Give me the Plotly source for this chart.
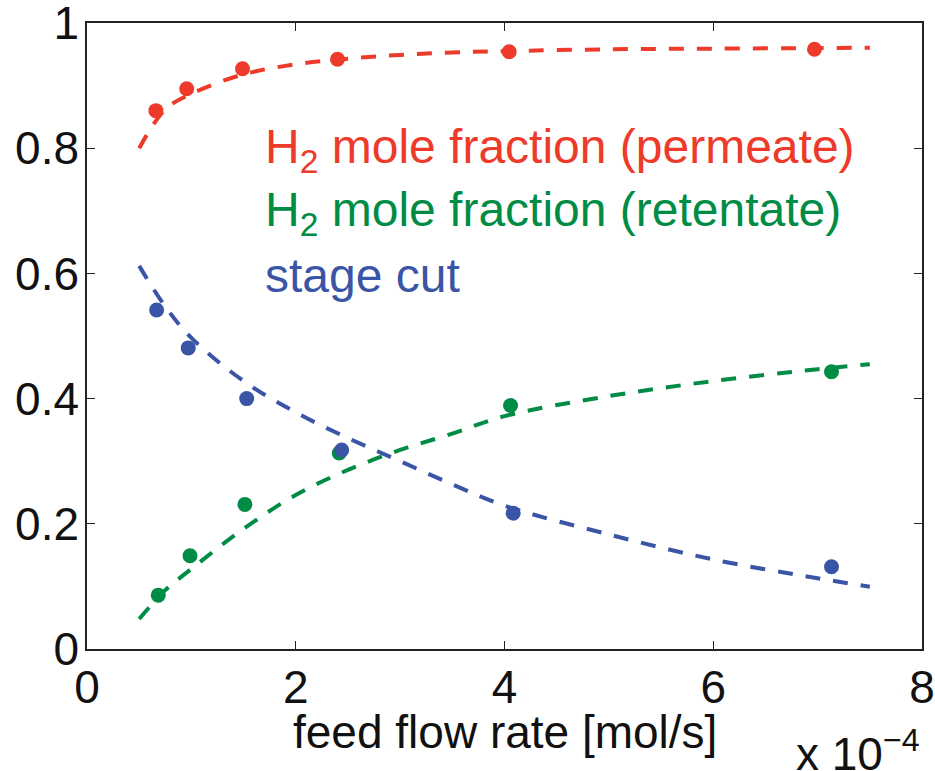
import plotly.graph_objects as go

# Measured points (feed flow rate in units of 1e-4 mol/s)
perm_x = [0.66, 0.955, 1.49, 2.40, 4.045, 6.97]
perm_y = [0.860, 0.895, 0.927, 0.942, 0.954, 0.958]

ret_x = [0.683, 0.987, 1.513, 2.417, 4.058, 7.133]
ret_y = [0.086, 0.149, 0.231, 0.313, 0.389, 0.443]

cut_x = [0.667, 0.970, 1.530, 2.440, 4.083, 7.133]
cut_y = [0.5415, 0.481, 0.400, 0.318, 0.217, 0.1315]

# Model curves
fit_x = [0.5, 0.75, 1.0, 1.5, 2.0, 2.5, 3.0, 3.5, 4.0, 5.0, 6.0, 7.0, 7.5]
perm_fit = [0.800, 0.862, 0.887, 0.918, 0.934, 0.943, 0.949, 0.953, 0.955, 0.958, 0.959, 0.960, 0.9605]
ret_fit = [0.048, 0.094, 0.128, 0.192, 0.246, 0.286, 0.318, 0.344, 0.372, 0.404, 0.428, 0.447, 0.455]
cut_fit = [0.612, 0.547, 0.497, 0.428, 0.378, 0.337, 0.300, 0.263, 0.229, 0.183, 0.143, 0.113, 0.0995]

x_ticks = [0, 2, 4, 6, 8]
y_ticks = [0, 0.2, 0.4, 0.6, 0.8, 1]
y_tick_text = ["0", "0.2", "0.4", "0.6", "0.8", "1"]

RED = "#EE3A2A"
GREEN = "#008C44"
BLUE = "#3A55A6"
INK = "#111111"
FONT = "Liberation Sans, Arial, Helvetica, sans-serif"
FS = 46

fig = go.Figure()

series = [
    (perm_x, perm_y, perm_fit, RED),
    (ret_x, ret_y, ret_fit, GREEN),
    (cut_x, cut_y, cut_fit, BLUE),
]
for px, py, fy, col in series:
    fig.add_trace(go.Scatter(
        x=fit_x, y=fy, mode="lines",
        line=dict(color=col, width=4, dash="15px,13px", shape="spline", smoothing=1.0),
        showlegend=False, hoverinfo="skip",
    ))
    fig.add_trace(go.Scatter(
        x=px, y=py, mode="markers",
        marker=dict(color=col, size=15, line=dict(width=0)),
        showlegend=False,
    ))

labels = [
    ("H<sub>2</sub> mole fraction (permeate)", RED, 0.797),
    ("H<sub>2</sub> mole fraction (retentate)", GREEN, 0.697),
    ("stage cut", BLUE, 0.596),
]
for txt, col, yv in labels:
    fig.add_annotation(
        x=1.686, y=yv, xref="x", yref="y", text=txt, showarrow=False,
        xanchor="left", yanchor="middle",
        font=dict(family=FONT, size=48, color=col),
    )

# x-axis title
fig.add_annotation(
    x=0.5, y=-0.132, xref="paper", yref="paper",
    text="feed flow rate [mol/s]", showarrow=False,
    xanchor="center", yanchor="middle",
    font=dict(family=FONT, size=FS, color=INK),
)

# axis scale factor
fig.add_annotation(
    x=1.0, y=-0.113, xref="paper", yref="paper",
    text="x 10<sup>\u22124</sup>", showarrow=False,
    xanchor="right", yanchor="top",
    font=dict(family=FONT, size=FS, color=INK),
)

axis_common = dict(
    showgrid=False, zeroline=False, showline=True, linecolor="#222222", linewidth=1.5,
    mirror="ticks", ticks="inside", ticklen=8, tickwidth=1, tickcolor="#222222",
    tickfont=dict(family=FONT, size=FS, color=INK), automargin=False,
    ticklabeloverflow="allow",
)

fig.update_xaxes(
    range=[0, 8], tickvals=x_ticks, ticktext=[str(v) for v in x_ticks],
    ticklabelstandoff=-3,
    **axis_common,
)
fig.update_yaxes(
    range=[0, 1], tickvals=y_ticks, ticktext=y_tick_text,
    ticklabelstandoff=-3,
    **axis_common,
)

fig.update_layout(
    width=935, height=771,
    margin=dict(l=87, r=13, t=23, b=122),
    paper_bgcolor="white", plot_bgcolor="white",
    font=dict(family=FONT, size=FS, color=INK),
)

fig.write_html("out.html")
